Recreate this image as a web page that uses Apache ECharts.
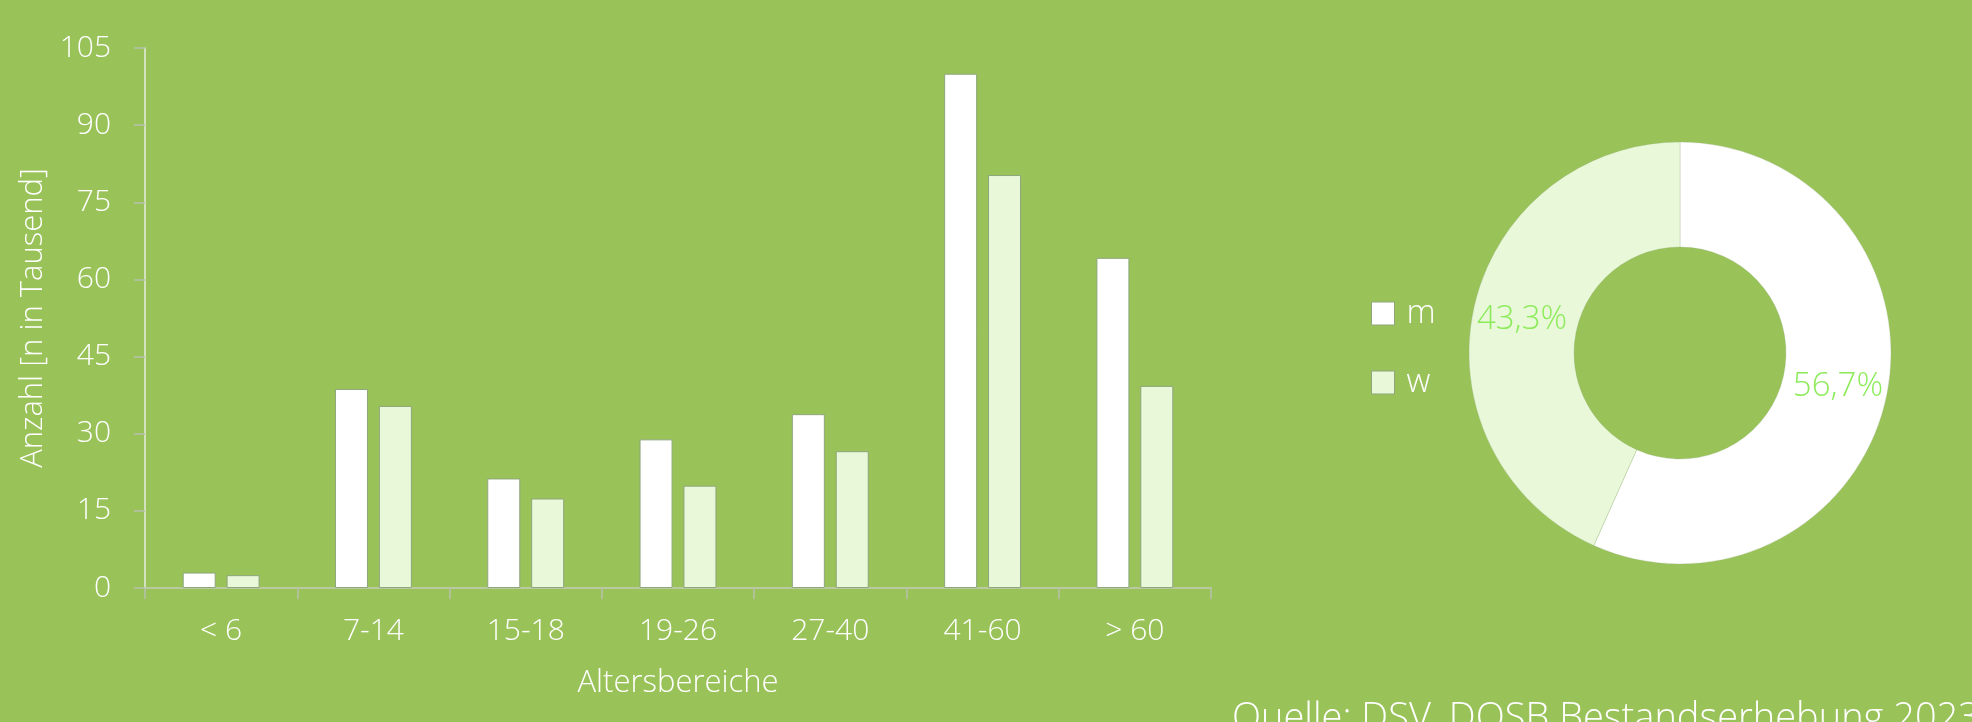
<!DOCTYPE html>
<html>
<head>
<meta charset="utf-8">
<title>Altersbereiche</title>
<script src="https://cdn.jsdelivr.net/npm/echarts@6/dist/echarts.min.js"></script>
<style>
  html, body { margin: 0; padding: 0; background: #99c259; }
  #chart { width: 1972px; height: 722px; }
</style>
</head>
<body>
<div id="chart"></div>
<script>
// Altersbereiche (x-axis categories)
const categories = ['< 6', '7-14', '15-18', '19-26', '27-40', '41-60', '> 60'];
// Anzahl in Tausend
const maleValues = [3.0, 38.7, 21.3, 28.9, 33.8, 100.0, 64.2];
const femaleValues = [2.5, 35.4, 17.4, 19.9, 26.6, 80.3, 39.3];
// share in percent for the donut
const shareNames = ['m', 'w'];
const shareValues = [56.7, 43.3];
const yTicks = { min: 0, max: 105, interval: 15 };

const bg = '#99c259';
const white = '#ffffff';
const lightGreen = '#e8f8d8';
const border = '#8fa67c';
const font = '"Open Sans", "DejaVu Sans", sans-serif';

const chart = echarts.init(document.getElementById('chart'));

const option = {
    backgroundColor: bg,
    animation: false,
    textStyle: { fontFamily: font },
    grid: { left: 145, right: 761, top: 48, bottom: 134 },
    legend: {
        data: shareNames,
        orient: 'vertical',
        left: 1366,
        top: 292,
        itemWidth: 23,
        itemHeight: 23,
        itemGap: 36,
        icon: 'rect',
        itemStyle: { borderColor: border, borderWidth: 1 },
        textStyle: { color: white, fontSize: 33, fontWeight: 300, fontFamily: font, padding: [0, 0, 0, 7] }
    },
    xAxis: {
        type: 'category',
        data: categories,
        name: 'Altersbereiche',
        nameLocation: 'middle',
        nameGap: 80,
        nameTextStyle: { color: white, fontSize: 31, fontWeight: 300 },
        axisLine: { lineStyle: { color: '#c5ccbb', width: 1.5 } },
        axisTick: { show: true, length: 11, lineStyle: { color: '#b8c0ad', width: 1.5 } },
        axisLabel: { color: white, fontSize: 30, fontWeight: 300, margin: 28 }
    },
    yAxis: {
        type: 'value',
        min: yTicks.min,
        max: yTicks.max,
        interval: yTicks.interval,
        name: 'Anzahl [n in Tausend]',
        nameLocation: 'middle',
        nameGap: 96,
        nameTextStyle: { color: white, fontSize: 31, fontWeight: 300 },
        splitLine: { show: false },
        axisLine: { show: true, lineStyle: { color: '#e6ecdf', width: 1.5 } },
        axisTick: { show: true, length: 11, lineStyle: { color: '#b8c0ad', width: 1.5 } },
        axisLabel: { color: white, fontSize: 30, fontWeight: 300, margin: 34 }
    },
    series: [
        {
            name: 'm',
            type: 'bar',
            data: maleValues,
            barWidth: 33,
            barGap: '33%',
            itemStyle: { color: white, borderColor: border, borderWidth: 1 }
        },
        {
            name: 'w',
            type: 'bar',
            data: femaleValues,
            barWidth: 33,
            itemStyle: { color: lightGreen, borderColor: border, borderWidth: 1 }
        },
        {
            name: 'Anteil',
            type: 'pie',
            center: [1680, 353],
            radius: [106, 211],
            startAngle: 90,
            clockwise: true,
            data: shareNames.map(function (n, i) {
                return {
                    name: n,
                    value: shareValues[i],
                    itemStyle: { color: i === 0 ? white : lightGreen }
                };
            }),
            itemStyle: { borderColor: 'rgba(143,166,124,0.5)', borderWidth: 0.5 },
            label: {
                show: true,
                position: 'inside',
                color: '#8deb5b',
                fontSize: 33,
                fontWeight: 300,
                formatter: function (p) {
                    return p.value.toFixed(1).replace('.', ',') + '%';
                }
            },
            labelLine: { show: false },
            emphasis: { disabled: true }
        }
    ],
    graphic: [
        {
            type: 'text',
            left: 1232,
            top: 700,
            style: {
                text: 'Quelle: DSV, DOSB Bestandserhebung 2023',
                fill: white,
                font: '300 38px ' + font
            }
        }
    ]
};

chart.setOption(option);
</script>
</body>
</html>
